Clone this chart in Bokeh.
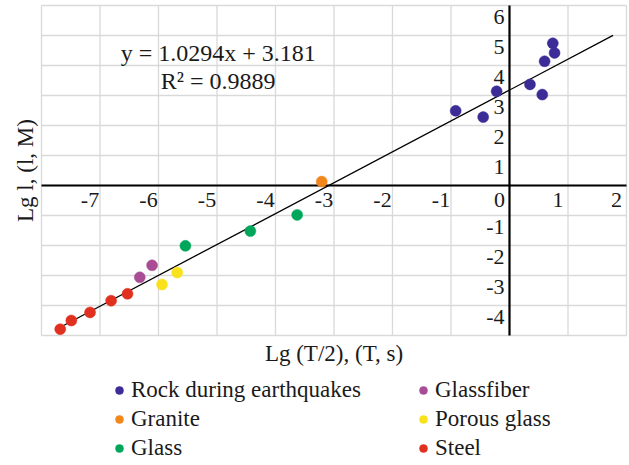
from bokeh.plotting import figure
from bokeh.models import Label, Legend, LegendItem, ColumnDataSource, Range1d
from bokeh.embed import file_html
from bokeh.resources import INLINE
from bokeh.core.properties import value

# ---- data ----
rock_x = [-0.92, -0.45, -0.22, 0.35, 0.56, 0.60, 0.74, 0.77]
rock_y = [2.49, 2.28, 3.14, 3.37, 3.03, 4.14, 4.74, 4.42]
granite_x = [-3.21]
granite_y = [0.13]
glass_x = [-5.54, -4.43, -3.63]
glass_y = [-2.01, -1.52, -0.98]
glassfiber_x = [-6.32, -6.11]
glassfiber_y = [-3.06, -2.66]
porous_x = [-5.94, -5.68]
porous_y = [-3.30, -2.90]
steel_x = [-7.68, -7.49, -7.17, -6.81, -6.53]
steel_y = [-4.79, -4.50, -4.23, -3.84, -3.61]

series_names = ["Rock during earthquakes", "Granite", "Glass",
                "Glassfiber", "Porous glass", "Steel"]
series_colors = ["#3b2c97", "#f2861a", "#00a65a", "#a84d95", "#f9e11c", "#e1301f"]

slope = 1.0294
intercept = 3.181
r_squared = 0.9889

# axis extents and ticks
x_min, x_max = -8, 2
y_min, y_max = -5, 6
grid_x = list(range(-8, 3))
grid_y = list(range(-5, 7))
x_tick_values = [-7, -6, -5, -4, -3, -2, -1, 0, 1, 2]
x_tick_labels = ["-7", "-6", "-5", "-4", "-3", "-2", "-1", "0", "1", "2"]
y_tick_values = [-4, -3, -2, -1, 1, 2, 3, 4, 5, 6]
y_tick_labels = ["-4", "-3", "-2", "-1", "1", "2", "3", "4", "5", "6"]

x_title = "Lg (T/2), (T, s)"
y_title = "Lg l, (l, M)"

FONT = "Liberation Serif"
TXT = "#1a1a1a"
GRID = "#d9d9d9"

# ---- layout: plot area inside the canvas (pixels) ----
W, H = 629, 465
PL, PR, PT, PB = 41, 626, 5, 335
sx = (PR - PL) / (x_max - x_min)
sy = (PB - PT) / (y_max - y_min)
xr = Range1d(x_min - PL / sx, x_max + (W - PR) / sx)
yr = Range1d(y_min - (H - PB) / sy, y_max + PT / sy)

p = figure(width=W, height=H, x_range=xr, y_range=yr,
           output_backend="svg", toolbar_location=None,
           x_axis_location=None, y_axis_location=None, min_border=0)
p.grid.visible = False
p.outline_line_color = None
p.background_fill_color = "white"
p.border_fill_color = "white"

# grid lines of the plot area
p.segment(x0=grid_x, y0=[y_min] * len(grid_x), x1=grid_x, y1=[y_max] * len(grid_x),
          line_color=GRID, line_width=1.3)
p.segment(x0=[x_min] * len(grid_y), y0=grid_y, x1=[x_max] * len(grid_y), y1=grid_y,
          line_color=GRID, line_width=1.3)

# axes through the origin
p.segment(x0=[x_min], y0=[0], x1=[x_max], y1=[0], line_color="black", line_width=2.2)
p.segment(x0=[0], y0=[y_min], x1=[0], y1=[y_max], line_color="black", line_width=2.2)

# tick labels
xt = ColumnDataSource(dict(x=x_tick_values, y=[0] * len(x_tick_values), t=x_tick_labels))
p.text(x="x", y="y", text="t", source=xt, text_font=value(FONT), text_font_size="22px",
       text_align="center", text_baseline="middle", x_offset=-10, y_offset=14,
       text_color=TXT)
yt = ColumnDataSource(dict(x=[0] * len(y_tick_values), y=y_tick_values, t=y_tick_labels))
p.text(x="x", y="y", text="t", source=yt, text_font=value(FONT), text_font_size="22px",
       text_align="right", text_baseline="middle", x_offset=-5, y_offset=11,
       text_color=TXT)

# trend line
all_x = rock_x + granite_x + glass_x + glassfiber_x + porous_x + steel_x
line_x = [min(all_x), max(all_x) + 1]
line_y = [slope * v + intercept for v in line_x]
p.line(line_x, line_y, line_color="black", line_width=1.3)

# points
series = [(rock_x, rock_y), (granite_x, granite_y), (glass_x, glass_y),
          (glassfiber_x, glassfiber_y), (porous_x, porous_y), (steel_x, steel_y)]
items = []
for (xs, ys), name, col in zip(series, series_names, series_colors):
    r = p.scatter(xs, ys, size=11, fill_color=col, line_color=col, line_width=0.5)
    items.append(LegendItem(label=name, renderers=[r]))

legend = Legend(items=items, ncols=2, location=(109, 4),
                label_text_font=FONT, label_text_font_size="23px",
                label_text_color=TXT,
                glyph_width=20, glyph_height=26, label_height=26, label_standoff=2,
                label_width=279, spacing=3, padding=0, margin=0,
                border_line_color=None, background_fill_alpha=0)
p.add_layout(legend, "center")

# regression equation
p.add_layout(Label(x=-4.98, y=4.43, text=f"y = {slope}x + {intercept}",
                   text_font=FONT, text_font_size="24px", text_align="center",
                   text_baseline="middle", text_color=TXT))
p.add_layout(Label(x=-4.98, y=3.5, text=f"R² = {r_squared}",
                   text_font=FONT, text_font_size="24px", text_align="center",
                   text_baseline="middle", text_color=TXT))

# axis titles
p.add_layout(Label(x=(x_min + x_max) / 2, y=y_min, y_offset=-18, text=x_title,
                   text_font=FONT, text_font_size="23px", text_align="center",
                   text_baseline="middle", text_color=TXT))
p.add_layout(Label(x=x_min, y=(y_min + y_max) / 2, x_offset=-16, text=y_title,
                   angle=1.5707963267948966, text_font=FONT, text_font_size="23px",
                   text_align="center", text_baseline="middle", text_color=TXT))

open("out.html", "w").write(file_html(p, INLINE))
